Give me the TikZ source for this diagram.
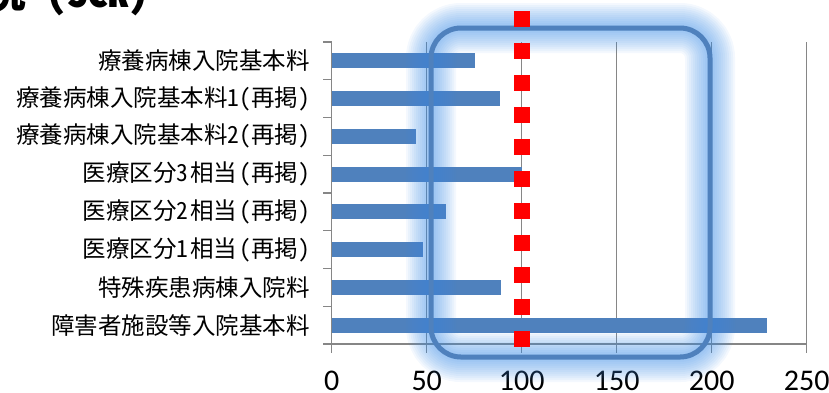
\documentclass[tikz,border=0pt]{standalone}
\usepackage{fontspec}
\usepackage{tikz}
\newfontfamily\jpfont[RawFeature=+hwid]{Noto Sans CJK JP}
\newfontfamily\numfont{Carlito}
\definecolor{barblue}{RGB}{79,129,189}
\definecolor{glowblue}{RGB}{60,140,230}
\definecolor{gridgray}{RGB}{134,134,134}
\tikzset{
  cat/.style={anchor=east,inner sep=0pt,font=\jpfont\fontsize{23.5}{28}\selectfont},
  val/.style={anchor=base,inner sep=0pt,font=\numfont\fontsize{30}{36}\selectfont},
  bar/.style={anchor=west,fill=barblue,inner sep=0pt,minimum height=15pt},
  gridline/.style={draw=gridgray,line width=1.2pt},
  glow/.style={draw=glowblue,opacity=0.06,rounded corners=30pt},
}
\begin{document}
\begin{tikzpicture}[x=1pt,y=-1pt]
\useasboundingbox (0,0) rectangle (829,392);
\node[anchor=base west,inner sep=0pt,font=\jpfont\bfseries\fontsize{41}{48}\selectfont] (title) at (-15,7) {況 (SCR)};
% grid and axes
\foreach \k in {0,...,5} \draw[gridline] (331.7+95*\k,42) -- (331.7+95*\k,353);
\draw[gridline] (323,344) -- (806.7,344);
\foreach \j in {0,...,7} \draw[gridline] (323,42+37.75*\j) -- (331.7,42+37.75*\j);
\node[val] (t0) at (331.7,390) {0};
\node[val] (t50) at (426.7,390) {50};
\node[val] (t100) at (521.7,390) {100};
\node[val] (t150) at (616.7,390) {150};
\node[val] (t200) at (711.7,390) {200};
\node[val] (t250) at (806.7,390) {250};
% bars
\node[bar,minimum width=75.1*1.9pt] (b1) at (331.7,60.9) {};
\node[bar,minimum width=88.5*1.9pt] (b2) at (331.7,98.6) {};
\node[bar,minimum width=44.2*1.9pt] (b3) at (331.7,136.4) {};
\node[bar,minimum width=100*1.9pt] (b4) at (331.7,174.1) {};
\node[bar,minimum width=60*1.9pt] (b5) at (331.7,211.9) {};
\node[bar,minimum width=47.9*1.9pt] (b6) at (331.7,249.6) {};
\node[bar,minimum width=88.8*1.9pt] (b7) at (331.7,287.4) {};
\node[bar,minimum width=228.9*1.9pt] (b8) at (331.7,325.1) {};
% category labels
\node[cat] (l1) at (310,60.9) {療養病棟入院基本料};
\node[cat] (l2) at (310,98.6) {療養病棟入院基本料1（再掲）};
\node[cat] (l3) at (310,136.4) {療養病棟入院基本料2（再掲）};
\node[cat] (l4) at (310,174.1) {医療区分3\kern2pt相当\kern2pt（再掲）};
\node[cat] (l5) at (310,211.9) {医療区分2\kern2pt相当\kern2pt（再掲）};
\node[cat] (l6) at (310,249.6) {医療区分1\kern2pt相当\kern2pt（再掲）};
\node[cat] (l7) at (310,287.4) {特殊疾患病棟入院料};
\node[cat] (l8) at (310,325.1) {障害者施設等入院基本料};
% highlight frame
\foreach \w in {50,46,...,6} \draw[glow,line width=\w pt] (431,28) rectangle (710,357);
\draw[draw=barblue,line width=5pt,rounded corners=30pt] (431,28) rectangle (710,357);
% reference line at 100
\draw[red,line width=16pt,dash pattern=on 16pt off 16pt] (521.7,10.8) -- (521.7,346.8);
\end{tikzpicture}
\end{document}
